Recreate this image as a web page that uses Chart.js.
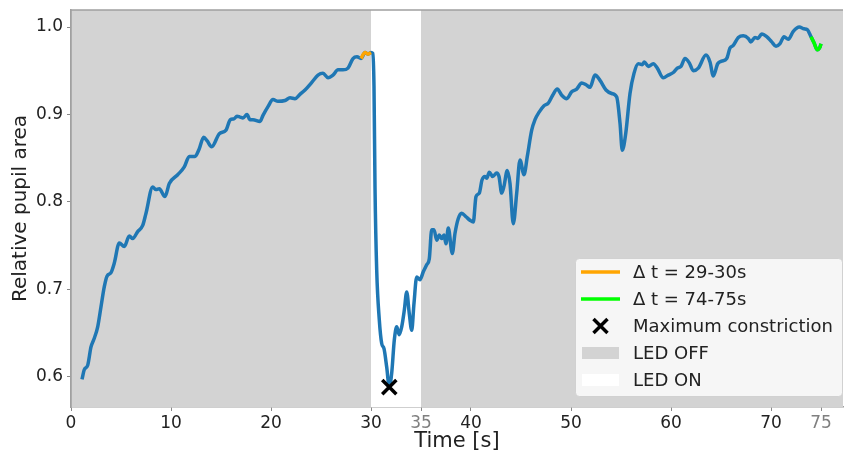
<!DOCTYPE html>
<html>
<head>
<meta charset="utf-8">
<script src="https://cdn.jsdelivr.net/npm/chart.js@4.4.0/dist/chart.umd.min.js"></script>
<style>
  html, body { margin: 0; padding: 0; background: #fff; }
  #wrap { width: 844px; height: 454px; }
</style>
</head>
<body>
<div id="wrap"><canvas id="pupil-chart" width="844" height="454"></canvas></div>
<script>
const times = [1.1, 1.33, 1.67, 2.0, 2.33, 2.67, 3.0, 3.33, 3.6, 4.0, 4.33, 4.83, 5.33, 5.83, 6.17, 6.67, 7.17, 7.5,
  8.17, 8.5, 8.83, 9.4, 9.83, 10.67, 11.33, 11.83, 12.4, 12.8, 13.27, 13.6, 14.07, 14.83, 15.5, 15.93, 16.3, 16.6,
  16.9, 17.2, 17.6, 17.9, 18.2, 18.9, 19.2, 19.7, 20.2, 20.7, 21.4, 21.9, 22.4, 22.9, 23.4, 24.1, 24.7, 25.2, 25.7,
  26.2, 26.7, 27.2, 27.7, 28.2, 28.6, 29.0, 29.4, 29.7, 30.0, 30.17, 30.3, 30.4, 30.57, 30.83, 31.07, 31.3, 31.57,
  31.83, 32.07, 32.33, 32.57, 32.83, 33.07, 33.33, 33.57, 33.83, 34.07, 34.3, 34.57, 34.9, 35.23, 35.57, 35.83,
  36.07, 36.3, 36.57, 36.83, 37.07, 37.3, 37.5, 37.73, 38.13, 38.4, 38.73, 39.07, 39.5, 39.9, 40.23, 40.5, 40.83,
  41.1, 41.4, 41.57, 41.83, 42.17, 42.57, 42.8, 43.07, 43.3, 43.63, 43.9, 44.23, 44.57, 44.9, 45.3, 45.63, 46.07,
  46.4, 46.83, 47.3, 47.73, 48.17, 48.63, 49.07, 49.57, 50.07, 50.57, 51.07, 51.5, 51.9, 52.4, 52.9, 53.5, 54.07,
  54.57, 54.9, 55.13, 55.47, 55.9, 56.3, 56.73, 57.13, 57.33, 57.73, 58.23, 58.63, 59.23, 59.73, 60.23, 60.63, 61.0,
  61.4, 61.83, 62.23, 62.73, 63.5, 63.9, 64.23, 64.67, 65.07, 65.57, 65.9, 66.23, 66.73, 67.23, 67.73, 67.97, 68.4,
  68.7, 69.07, 69.57, 70.07, 70.5, 70.9, 71.3, 71.73, 72.23, 72.83, 73.3, 73.63, 74.0, 74.3, 74.63, 74.9, 75.0];
const pupilArea = [0.597, 0.608, 0.613, 0.634, 0.644, 0.657, 0.680, 0.703, 0.715, 0.719, 0.730, 0.753, 0.749, 0.761,
  0.758, 0.766, 0.773, 0.787, 0.817, 0.814, 0.815, 0.806, 0.821, 0.831, 0.840, 0.852, 0.852, 0.860, 0.874, 0.870,
  0.863, 0.878, 0.882, 0.894, 0.895, 0.898, 0.897, 0.896, 0.900, 0.894, 0.894, 0.892, 0.899, 0.909, 0.917, 0.915,
  0.916, 0.919, 0.918, 0.923, 0.928, 0.937, 0.945, 0.947, 0.942, 0.945, 0.951, 0.951, 0.953, 0.964, 0.966, 0.964,
  0.971, 0.969, 0.971, 0.970, 0.932, 0.817, 0.722, 0.665, 0.638, 0.632, 0.611, 0.588, 0.604, 0.642, 0.657, 0.648,
  0.657, 0.676, 0.697, 0.672, 0.653, 0.684, 0.714, 0.711, 0.720, 0.728, 0.735, 0.768, 0.768, 0.756, 0.762, 0.758,
  0.762, 0.752, 0.770, 0.741, 0.764, 0.781, 0.787, 0.783, 0.779, 0.777, 0.806, 0.810, 0.825, 0.829, 0.827, 0.834,
  0.829, 0.833, 0.829, 0.810, 0.818, 0.836, 0.821, 0.775, 0.810, 0.848, 0.831, 0.852, 0.882, 0.894, 0.903, 0.910,
  0.913, 0.922, 0.929, 0.922, 0.918, 0.926, 0.929, 0.936, 0.934, 0.931, 0.945, 0.939, 0.928, 0.924, 0.920, 0.890,
  0.859, 0.878, 0.924, 0.947, 0.958, 0.957, 0.960, 0.955, 0.958, 0.953, 0.942, 0.945, 0.948, 0.953, 0.955, 0.964,
  0.959, 0.950, 0.953, 0.968, 0.960, 0.944, 0.958, 0.961, 0.964, 0.976, 0.979, 0.988, 0.990, 0.987, 0.983, 0.988,
  0.987, 0.992, 0.989, 0.983, 0.978, 0.981, 0.989, 0.986, 0.995, 1.000, 0.998, 0.997, 0.989, 0.982, 0.974, 0.977,
  0.981];

const window1 = [29, 30];      // Δ t = 29-30s
const window2 = [74, 75];      // Δ t = 74-75s
const ledOn = [30, 35];        // LED ON interval
const xTicks = [0, 10, 20, 30, 35, 40, 50, 60, 70, 75];
const greyTicks = [35, 75];
const yTicks = [0.6, 0.7, 0.8, 0.9, 1.0];

const FONT = "'DejaVu Sans', sans-serif";
const BLUE = '#1f77b4';
const ORANGE = '#ffa500';
const GREEN = '#00ff00';
const OFF_GREY = '#d3d3d3';

const trace = times.map((t, i) => ({ x: t, y: pupilArea[i] }));
const inWindow = (w) => trace.filter(p => p.x >= w[0] && p.x <= w[1]);

let minIdx = 0;
pupilArea.forEach((v, i) => { if (v < pupilArea[minIdx]) minIdx = i; });

// shaded background: grey for LED off, white for LED on
const shading = {
  id: 'shading',
  beforeDatasetsDraw(chart) {
    const { ctx, chartArea: a, scales: { x } } = chart;
    ctx.save();
    ctx.fillStyle = OFF_GREY;
    ctx.fillRect(a.left, a.top, a.right - a.left, a.bottom - a.top);
    ctx.fillStyle = '#ffffff';
    const x0 = x.getPixelForValue(ledOn[0]), x1 = x.getPixelForValue(ledOn[1]);
    ctx.fillRect(x0, a.top, x1 - x0, a.bottom - a.top);
    ctx.restore();
  },
  afterDatasetsDraw(chart) {
    const { ctx, chartArea: a } = chart;
    ctx.save();
    ctx.strokeStyle = '#a0a0a0';
    ctx.lineWidth = 1.5;
    ctx.beginPath();
    ctx.moveTo(a.left, a.bottom);
    ctx.lineTo(a.left, a.top);
    ctx.lineTo(a.right, a.top);
    ctx.stroke();
    ctx.restore();
  }
};

// legend box inside lower right corner of the plot
const boxLegend = {
  id: 'boxLegend',
  afterDraw(chart) {
    const { ctx, chartArea: a } = chart;
    const w = 268, h = 139;
    const left = a.right - w, top = a.bottom - 10 - h;
    ctx.save();
    ctx.fillStyle = 'rgba(255,255,255,0.8)';
    ctx.strokeStyle = 'rgba(204,204,204,0.8)';
    ctx.lineWidth = 1;
    ctx.beginPath();
    ctx.roundRect(left + 0.5, top + 0.5, w - 1, h - 1, 4);
    ctx.fill();
    ctx.stroke();

    const items = [
      { kind: 'line', color: ORANGE, text: 'Δ t = 29-30s' },
      { kind: 'line', color: GREEN, text: 'Δ t = 74-75s' },
      { kind: 'cross', color: '#000', text: 'Maximum constriction' },
      { kind: 'patch', color: OFF_GREY, text: 'LED OFF' },
      { kind: 'patch', color: '#ffffff', text: 'LED ON' }
    ];
    const hx0 = left + 6, hx1 = left + 45, tx = left + 58;
    ctx.font = '18px ' + FONT;
    ctx.textBaseline = 'middle';
    items.forEach((it, i) => {
      const cy = top + 14 + i * 27;
      if (it.kind === 'line') {
        ctx.strokeStyle = it.color;
        ctx.lineWidth = 3.5;
        ctx.beginPath();
        ctx.moveTo(hx0, cy);
        ctx.lineTo(hx1, cy);
        ctx.stroke();
      } else if (it.kind === 'cross') {
        const cx = (hx0 + hx1) / 2, r = 7;
        ctx.strokeStyle = it.color;
        ctx.lineWidth = 3.5;
        ctx.beginPath();
        ctx.moveTo(cx - r, cy - r); ctx.lineTo(cx + r, cy + r);
        ctx.moveTo(cx - r, cy + r); ctx.lineTo(cx + r, cy - r);
        ctx.stroke();
      } else {
        ctx.fillStyle = it.color;
        ctx.fillRect(hx0 + 1, cy - 6, hx1 - hx0 - 2, 12);
      }
      ctx.fillStyle = '#222';
      ctx.fillText(it.text, tx, cy + 1);
    });
    ctx.restore();
  }
};

const config = {
  type: 'line',
  data: {
    datasets: [
      {
        label: 'Pupil area',
        data: trace,
        borderColor: BLUE,
        borderWidth: 3.5,
        pointRadius: 0,
        cubicInterpolationMode: 'monotone',
        order: 3
      },
      {
        label: 'Δ t = 29-30s',
        data: inWindow(window1),
        borderColor: ORANGE,
        borderWidth: 3.5,
        pointRadius: 0,
        cubicInterpolationMode: 'monotone',
        order: 2
      },
      {
        label: 'Δ t = 74-75s',
        data: inWindow(window2),
        borderColor: GREEN,
        borderWidth: 3.5,
        pointRadius: 0,
        cubicInterpolationMode: 'monotone',
        order: 2
      },
      {
        label: 'Maximum constriction',
        data: [{ x: times[minIdx], y: pupilArea[minIdx] }],
        showLine: false,
        pointStyle: 'crossRot',
        pointRadius: 10,
        borderWidth: 3.5,
        borderColor: '#000',
        order: 1
      }
    ]
  },
  options: {
    responsive: false,
    animation: false,
    layout: { autoPadding: false, padding: { top: 10, right: 1, left: 0, bottom: 0 } },
    plugins: {
      legend: { display: false },
      tooltip: { enabled: false }
    },
    scales: {
      x: {
        type: 'linear',
        min: 0,
        max: 77.2,
        afterBuildTicks: (axis) => { axis.ticks = xTicks.map(v => ({ value: v })); },
        afterFit: (axis) => {
          axis.height = 47;
          axis.paddingLeft = 0;
          axis.paddingRight = 0;
        },
        grid: { drawOnChartArea: false, drawTicks: true, tickLength: 4, color: '#888' },
        border: { display: true, color: '#a0a0a0', width: 1.5 },
        ticks: {
          autoSkip: false,
          maxRotation: 0,
          padding: 2,
          font: { family: FONT, size: 17 },
          color: (c) => greyTicks.includes(c.tick.value) ? '#808080' : '#222'
        },
        title: {
          display: true,
          text: 'Time [s]',
          font: { family: FONT, size: 21 },
          color: '#222',
          padding: { top: 0, bottom: 0 }
        }
      },
      y: {
        min: 0.5653,
        max: 1.0195,
        afterBuildTicks: (axis) => { axis.ticks = yTicks.map(v => ({ value: v })); },
        afterFit: (axis) => {
          axis.width = 71;
          axis.paddingTop = 0;
          axis.paddingBottom = 0;
        },
        grid: { drawOnChartArea: false, drawTicks: true, tickLength: 4, color: '#888' },
        border: { display: true, color: '#a0a0a0', width: 1.5 },
        ticks: {
          padding: 4,
          font: { family: FONT, size: 17 },
          color: '#222',
          callback: (v) => v.toFixed(1)
        },
        title: {
          display: true,
          text: 'Relative pupil area',
          font: { family: FONT, size: 20 },
          color: '#222',
          padding: { top: 9, bottom: 0 }
        }
      }
    }
  },
  plugins: [shading, boxLegend]
};

document.addEventListener('DOMContentLoaded', () => {
  new Chart(document.getElementById('pupil-chart'), config);
});
</script>
</body>
</html>
